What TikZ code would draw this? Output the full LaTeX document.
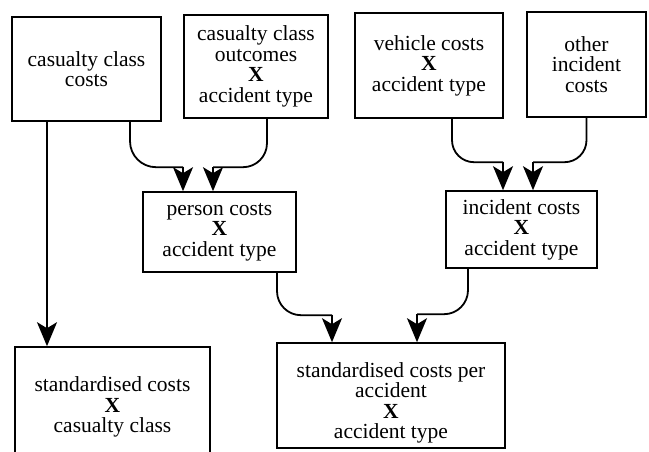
\documentclass[tikz,border=0pt]{standalone}
\usepackage{fontspec}
\setmainfont{Liberation Serif}
\usetikzlibrary{arrows.meta}
\begin{document}
\begin{tikzpicture}[x=1pt,y=-1pt,
  txt/.style={align=center, inner sep=0pt, font=\fontsize{21.5}{20.5}\selectfont},
  box/.style={txt, draw, line width=1.6pt},
  line/.style={line width=1.8pt},
  conn/.style={line width=1.8pt, -{Stealth[length=24pt,width=20pt,inset=6pt]}}]
\useasboundingbox (0,0) rectangle (649,452);
\clip (0,0) rectangle (649,452);
% top row
\node[box, minimum width=149pt, minimum height=104pt] (a) at (86.5,69) {casualty class\\costs};
\node[box, minimum width=144pt, minimum height=103pt] (b) at (256,66.5) {casualty class\\outcomes\\\textbf{X}\\accident type};
\node[box, minimum width=148pt, minimum height=105pt] (c) at (429,65.5) {vehicle costs\\\textbf{X}\\accident type};
\node[box, minimum width=119pt, minimum height=105pt] (d) at (586.5,64.5) {other\\incident\\costs};
% middle row
\node[box, minimum width=153pt, minimum height=80pt] (e) at (219.5,232) {person costs\\\textbf{X}\\accident type};
\node[box, minimum width=151pt, minimum height=77pt] (f) at (521.5,229.5) {incident costs\\\textbf{X}\\accident type};
% bottom row
\node[box, minimum width=195pt, minimum height=120pt] (g) at (112.5,407) {standardised costs\\\textbf{X}\\casualty class};
\node[box, minimum width=228pt, minimum height=105pt] (h) at (391,395.5) {};
\node[txt] (ht) at (391,403) {standardised costs per\\accident\\\textbf{X}\\accident type};
% connector ends
\coordinate (a1) at ([xshift=-39.5pt]a.south);
\coordinate (a2) at ([xshift=43.5pt]a.south);
\coordinate (b1) at ([xshift=11pt]b.south);
\coordinate (c1) at ([xshift=23pt]c.south);
\coordinate (d1) at (d.south);
\coordinate (e1) at ([xshift=-36.5pt]e.north);
\coordinate (e2) at ([xshift=-6.5pt]e.north);
\coordinate (e3) at ([xshift=57.5pt]e.south);
\coordinate (f1) at ([xshift=-18.5pt]f.north);
\coordinate (f2) at ([xshift=11.5pt]f.north);
\coordinate (f3) at ([xshift=-53.5pt]f.south);
\coordinate (h1) at ([xshift=-59pt]h.north);
\coordinate (h2) at ([xshift=26pt]h.north);
% corner points where the bends meet the arrowheads
\coordinate (e1k) at ([yshift=24pt]e1);
\coordinate (e2k) at ([yshift=24pt]e2);
\coordinate (f1k) at ([yshift=28pt]f1);
\coordinate (f2k) at ([yshift=28pt]f2);
\coordinate (h1k) at ([yshift=27pt]h1);
\coordinate (h2k) at ([yshift=28pt]h2);
% connectors
\draw[conn] (a1) -- (a1 |- g.north);
\draw[line, rounded corners=26pt] (a2) |- (e1k);
\draw[conn] (e1k) -- (e1);
\draw[line, rounded corners=24pt] (b1) |- (e2k);
\draw[conn] (e2k) -- (e2);
\draw[line, rounded corners=22pt] (c1) |- (f1k);
\draw[conn] (f1k) -- (f1);
\draw[line, rounded corners=22pt] (d1) |- (f2k);
\draw[conn] (f2k) -- (f2);
\draw[line, rounded corners=24pt] (e3) |- (h1k);
\draw[conn] (h1k) -- (h1);
\draw[line, rounded corners=24pt] (f3) |- (h2k);
\draw[conn] (h2k) -- (h2);
\end{tikzpicture}
\end{document}
